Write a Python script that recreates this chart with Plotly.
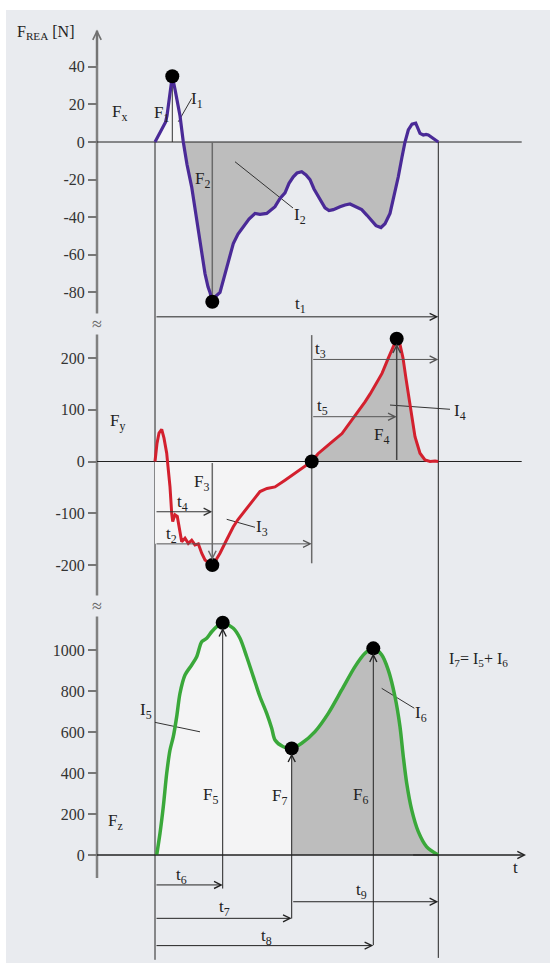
import plotly.graph_objects as go

# ------------------------------------------------------------------ data
T_END = 283.3          # end of ground contact (arbitrary time units)

# F_x  (purple)
fx_t = [0, 3, 6, 9, 10.5, 12, 15, 17.3, 20, 23, 25, 28.3, 32, 36.7, 40, 43.3, 47, 50, 53, 55,
        57.3, 61, 65, 68, 71.7, 75, 78.3, 83, 88.3, 94, 100, 105, 111.7, 120, 125, 130, 134,
        138.3, 142, 146.7, 151, 155, 159, 163.3, 167, 170, 174, 178.3, 185, 190, 195, 201,
        206.7, 212, 216.7, 221, 226, 230, 235, 239, 243.3, 247, 250, 253.3, 257, 260.7, 263,
        265, 268.3, 271, 273.3, 276, 278.3, 281, 283.3]
fx_v = [0, 3, 6, 9, 10.5, 14, 27, 35, 28, 20, 14, 0, -12, -24, -36, -48.5, -60, -70, -77, -80,
        -85, -82, -80, -74, -66, -60, -54, -49, -45, -41, -38, -38.5, -38, -34.4, -30, -27, -22,
        -18.5, -16.5, -15.8, -17.5, -20, -25, -29, -33, -35, -36.5, -36, -34.5, -33.5, -33, -34.5,
        -36, -39, -42, -44.5, -45.5, -43.5, -38, -29, -18.5, -8, 0, 6.4, 9.5, 10, 7, 4.6, 3.7,
        4, 3.7, 2.8, 2, 1, 0]

# F_y  (red)
fy_t = [0, 2, 4, 6.7, 9, 11.7, 13, 15, 16.7, 17.7, 19, 20, 22.3, 25, 26.7, 30, 33.3, 36.7, 40,
        43.3, 46.7, 50, 53, 57.3, 61, 65, 71.7, 78.3, 83, 88, 95, 100, 105, 112, 120, 130, 140,
        150, 156.7, 163, 170, 177, 187, 197, 205, 210, 215, 220, 227, 233, 238, 241.7, 245, 248,
        251, 255, 260, 265, 270, 275, 280, 283.3]
fy_v = [0, 35, 55, 62, 45, 16, -10, -49, -100, -116, -108, -103, -106, -139, -155, -148, -158,
        -152, -161, -159, -177, -190, -194, -200, -190, -177, -151, -126, -112, -100, -82, -70,
        -58, -52, -49, -36, -23, -10, 0, 15, 27, 38, 54, 80, 100, 115, 130, 146, 170, 198, 222,
        237, 226, 200, 160, 113, 48, 16, 3, 0, 1, 0]

# F_z  (green)
fz_t = [1.7, 5, 8.3, 11.7, 15, 18.3, 21.7, 25, 30, 36.7, 41.7, 46.7, 51.7, 56.7, 61.7, 67.7,
        78.3, 85, 91.7, 98.3, 105, 111.7, 116.7, 120, 128.3, 136.7, 146.7, 160, 173.3, 186.7,
        200, 210, 218.3, 226.7, 233.3, 240, 245, 248.3, 251.7, 256.7, 263.3, 271.7, 283.3]
fz_v = [0, 106, 236, 398, 512, 577, 675, 789, 878, 927, 967, 1040, 1057, 1089, 1114, 1133,
        1106, 1057, 967, 870, 772, 691, 618, 561, 528, 520, 545, 602, 691, 805, 919, 984, 1008,
        976, 902, 772, 626, 480, 350, 220, 114, 40, 0]

fx_ticks = [40, 20, 0, -20, -40, -60, -80]
fy_ticks = [200, 100, 0, -100, -200]
fz_ticks = [1000, 800, 600, 400, 200, 0]

# characteristic points
FX_PEAK = (17.3, 35)
FX_MIN = (57.3, -85)
FY_MIN = (57.3, -200)
FY_ZERO = (156.7, 0)
FY_PEAK = (241.7, 237)
FZ_PEAK1 = (67.7, 1133)
FZ_MIN = (136.7, 520)
FZ_PEAK2 = (218.3, 1008)
FX_CROSS = 28.3        # F_x crosses zero (end of I1)
FX_CROSS2 = 250        # F_x back to zero (end of I2)
FY_T2_LEVEL = -159     # lower edge of I3 area

# ------------------------------------------------------------------ geometry / style
W, H = 550, 965
X_RANGE = [-155, 395]
AXIS_T = -58           # position of the force axis
LINE_END = 366.7
PANEL = '#e9ebef'
GRAY_FILL = '#bdbdbd'
LIGHT_FILL = '#f4f4f5'
PURPLE = '#4a2a97'
RED = '#d3202e'
GREEN = '#3aa83a'
DARK = '#222222'
MID = '#6a6a6a'
FONT = 'Liberation Serif'


def yrange(zero_px, px_per_unit):
    return [(zero_px - H) / px_per_unit, zero_px / px_per_unit]


RX = yrange(142, 1.88)
RY = yrange(461.5, 0.518)
RZ = yrange(855, 0.205)

fig = go.Figure()


def sel(ts, vs, a, b):
    pts = [(t, v) for t, v in zip(ts, vs) if a <= t <= b]
    return [p[0] for p in pts], [p[1] for p in pts]


def fill(ts, vs, yaxis, color, shape='linear'):
    fig.add_trace(go.Scatter(x=ts, y=vs, yaxis=yaxis, mode='lines', fill='tozeroy',
                             fillcolor=color, line=dict(width=0, shape=shape),
                             hoverinfo='skip', showlegend=False))


def lines(segs, yaxis, color, width):
    xs, ys = [], []
    for (x0, y0, x1, y1) in segs:
        xs += [x0, x1, None]
        ys += [y0, y1, None]
    fig.add_trace(go.Scatter(x=xs, y=ys, yaxis=yaxis, mode='lines',
                             line=dict(color=color, width=width),
                             hoverinfo='skip', showlegend=False))


def arrow(x0, y0, x1, y1, yref, color=DARK, width=1, size=1.4, standoff=0):
    fig.add_annotation(x=x1, y=y1, ax=x0, ay=y0, xref='x', yref=yref, axref='x', ayref=yref,
                       text='', showarrow=True, arrowhead=5, arrowsize=size,
                       arrowwidth=width, arrowcolor=color, standoff=standoff)


def label(x, y, text, yref, size=17, xanchor='center'):
    fig.add_annotation(x=x, y=y, xref='x', yref=yref, text=text, showarrow=False,
                       xanchor=xanchor, yanchor='middle',
                       font=dict(family=FONT, size=size, color=DARK))


# ---- fills
t, v = sel(fx_t, fx_v, 0, FX_CROSS)
fill(t, v, 'y', LIGHT_FILL)
t, v = sel(fx_t, fx_v, FX_CROSS, FX_CROSS2)
fill(t, v, 'y', GRAY_FILL)

t, v = sel(fy_t, fy_v, FY_MIN[0] + 0.01, FY_ZERO[0])
poly_t = [0, 0, FY_MIN[0]] + t
poly_v = [0, FY_T2_LEVEL, FY_T2_LEVEL] + [max(val, FY_T2_LEVEL) for val in v]
fig.add_trace(go.Scatter(x=poly_t, y=poly_v, yaxis='y2', mode='lines', fill='toself',
                         fillcolor=LIGHT_FILL, line=dict(width=0), hoverinfo='skip',
                         showlegend=False))
t, v = sel(fy_t, fy_v, FY_ZERO[0], T_END)
fill(t, v, 'y2', GRAY_FILL)

t, v = sel(fz_t, fz_v, 0, FZ_MIN[0])
fill(t, v, 'y3', LIGHT_FILL, 'spline')
t, v = sel(fz_t, fz_v, FZ_MIN[0], T_END)
fill(t, v, 'y3', GRAY_FILL, 'spline')

# ---- structural lines
lines([(AXIS_T, -391.5, AXIS_T, 59.2)], 'y', '#808080', 2.5)           # force axis
lines([(AXIS_T, 0, LINE_END, 0),                                         # Fx zero line
       (0, 0, 0, -435), (T_END, 0, T_END, -434)], 'y', DARK, 1)
lines([(FX_PEAK[0], 0, FX_PEAK[0], FX_PEAK[1])], 'y', '#333333', 1)
lines([(FX_MIN[0], 0, FX_MIN[0], FX_MIN[1])], 'y', MID, 1.5)
lines([(AXIS_T, 0, LINE_END, 0)], 'y2', DARK, 1)
lines([(FY_ZERO[0], 244, FY_ZERO[0], -196.5)], 'y2', MID, 1.5)
lines([(AXIS_T, 0, T_END, 0)], 'y3', DARK, 1)

# leader lines
lines([(23.3, 10.8, 36.7, 23.2), (80, -10.5, 138, -35.1)], 'y', '#333333', 1)
lines([(71.7, -111.6, 100, -127), (235, 109, 295, 100.8)], 'y2', '#333333', 1)
lines([(0, 647, 45, 601), (226.7, 813, 259.3, 716)], 'y3', '#333333', 1)

# ---- curves
fig.add_trace(go.Scatter(x=fx_t, y=fx_v, yaxis='y', mode='lines',
                         line=dict(color=PURPLE, width=3.2), showlegend=False))
fig.add_trace(go.Scatter(x=fy_t, y=fy_v, yaxis='y2', mode='lines',
                         line=dict(color=RED, width=3), showlegend=False))
fig.add_trace(go.Scatter(x=fz_t, y=fz_v, yaxis='y3', mode='lines',
                         line=dict(color=GREEN, width=3.5, shape='spline', smoothing=0.8),
                         showlegend=False))

# ---- dots
for pts, ax in [([FX_PEAK, FX_MIN], 'y'), ([FY_MIN, FY_ZERO, FY_PEAK], 'y2'),
                ([FZ_PEAK1, FZ_MIN, FZ_PEAK2], 'y3')]:
    fig.add_trace(go.Scatter(x=[p[0] for p in pts], y=[p[1] for p in pts], yaxis=ax,
                             mode='markers', marker=dict(color='black', size=14),
                             showlegend=False))

# ---- arrows
arrow(AXIS_T, 40, AXIS_T, 59.8, 'y', color='#707070', width=1.5, size=1.1)   # axis tip
arrow(0, -93, T_END, -93, 'y')                                            # t1
arrow(FY_ZERO[0], 197, T_END, 197, 'y2', color='#555555')                 # t3
arrow(FY_ZERO[0], 86.5, FY_PEAK[0], 86.5, 'y2', color='#555555')          # t5
arrow(0, -97, FY_MIN[0], -97, 'y2', color='#333333')                      # t4
arrow(0, FY_T2_LEVEL, FY_ZERO[0], FY_T2_LEVEL, 'y2', color='#555555')     # t2
arrow(FY_MIN[0], 0, FY_MIN[0], FY_MIN[1], 'y2', color=MID, width=1.5, size=1.0, standoff=5)
arrow(FY_PEAK[0], 0, FY_PEAK[0], FY_PEAK[1], 'y2', color='#444444', width=1.5, size=1.0, standoff=5)
arrow(LINE_END - 110, 0, LINE_END + 4.3, 0, 'y3')                          # t axis
arrow(FZ_PEAK1[0], -171, FZ_PEAK1[0], FZ_PEAK1[1], 'y3', standoff=5)
arrow(FZ_MIN[0], -317, FZ_MIN[0], FZ_MIN[1], 'y3', standoff=5)
arrow(FZ_PEAK2[0], -447, FZ_PEAK2[0], FZ_PEAK2[1], 'y3', standoff=5)
arrow(0, -146, FZ_PEAK1[0], -146, 'y3')                                   # t6
arrow(FZ_MIN[0], -228, T_END, -228, 'y3')                                 # t9
arrow(0, -309, FZ_MIN[0], -309, 'y3')                                     # t7
arrow(0, -442, FZ_PEAK2[0], -442, 'y3')                                   # t8
lines([(AXIS_T, 0, LINE_END, 0)], 'y3', DARK, 1)

# ---- texts
label(-109, 58, 'F<sub>REA</sub> [N]', 'y', size=16)
label(-36, 15.4, 'F<sub>x</sub>', 'y')
label(6, 15, 'F<sub>1</sub>', 'y')
label(42, 22.3, 'I<sub>1</sub>', 'y')
label(47, -20.2, 'F<sub>2</sub>', 'y')
label(145, -39.4, 'I<sub>2</sub>', 'y')
label(145, -86.7, 't<sub>1</sub>', 'y')

label(-38, 76, 'F<sub>y</sub>', 'y2')
label(46, -41.5, 'F<sub>3</sub>', 'y2')
label(27, -80, 't<sub>4</sub>', 'y2')
label(16, -142, 't<sub>2</sub>', 'y2')
label(107, -128, 'I<sub>3</sub>', 'y2')
label(165, 215, 't<sub>3</sub>', 'y2')
label(167, 105, 't<sub>5</sub>', 'y2')
label(226, 49, 'F<sub>4</sub>', 'y2')
label(305, 96, 'I<sub>4</sub>', 'y2')

label(-9, 702, 'I<sub>5</sub>', 'y3')
label(55, 288, 'F<sub>5</sub>', 'y3')
label(124, 283, 'F<sub>7</sub>', 'y3')
label(205, 288, 'F<sub>6</sub>', 'y3')
label(266, 688, 'I<sub>6</sub>', 'y3')
label(292, 956, 'I<sub>7</sub>= I<sub>5</sub>+ I<sub>6</sub>', 'y3', size=16, xanchor='left')
label(-40, 161, 'F<sub>z</sub>', 'y3')
label(26, -102, 't<sub>6</sub>', 'y3')
label(69, -259, 't<sub>7</sub>', 'y3')
label(111, -400, 't<sub>8</sub>', 'y3')
label(206, -176, 't<sub>9</sub>', 'y3')
label(360, -63, 't', 'y3')

# axis breaks
for yv, ref in [(-96.8, 'y'), (-279, 'y2')]:
    fig.add_annotation(x=AXIS_T, y=yv, xref='x', yref=ref, text='≈', showarrow=False,
                       font=dict(family=FONT, size=18, color='#666666'), bgcolor=PANEL,
                       borderpad=0)

# ------------------------------------------------------------------ layout
pos = (AXIS_T - X_RANGE[0]) / (X_RANGE[1] - X_RANGE[0])


def yax(rng, ticks, **kw):
    d = dict(domain=[0, 1], range=rng, anchor='free', position=pos, showline=False,
             showgrid=False, zeroline=False, ticks='outside', ticklen=9, tickwidth=1.5,
             tickcolor='#777777', tickmode='array', tickvals=ticks,
             ticktext=[str(t_) for t_ in ticks], automargin=False,
             tickfont=dict(family=FONT, size=16, color='#333333'), fixedrange=True)
    d.update(kw)
    return d


fig.update_layout(
    width=W, height=H, autosize=False, template='none',
    margin=dict(l=0, r=0, t=0, b=0, pad=0),
    paper_bgcolor='white', plot_bgcolor='rgba(0,0,0,0)', showlegend=False,
    xaxis=dict(range=X_RANGE, visible=False, domain=[0, 1], automargin=False, fixedrange=True),
    yaxis=yax(RX, fx_ticks),
    yaxis2=yax(RY, fy_ticks, overlaying='y'),
    yaxis3=yax(RZ, fz_ticks, overlaying='y'),
    shapes=[dict(type='rect', xref='paper', yref='paper', x0=6 / W, x1=1, y0=1 - 963 / H,
                 y1=1 - 10 / H, fillcolor=PANEL, line=dict(width=0), layer='below')],
)

fig.write_html('out.html', config={'displayModeBar': False})
